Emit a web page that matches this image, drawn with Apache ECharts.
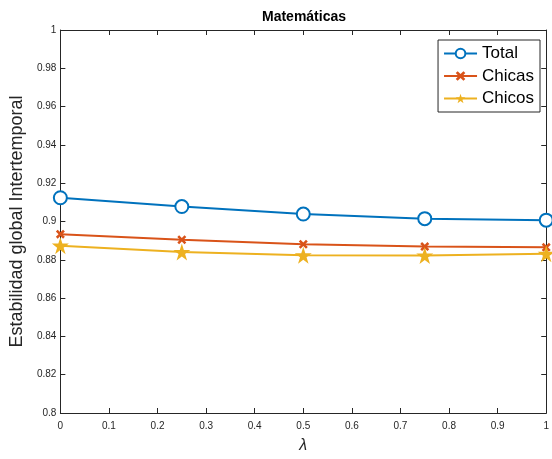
<!DOCTYPE html>
<html>
<head>
<meta charset="utf-8">
<script src="https://cdn.jsdelivr.net/npm/echarts@6/dist/echarts.min.js"></script>
<style>html,body{margin:0;padding:0;background:#fff}#c{width:552px;height:459px}</style>
</head>
<body>
<div id="c"></div>
<script>
const lambdas = [0, 0.25, 0.5, 0.75, 1];
const total  = [0.9124, 0.9078, 0.9039, 0.9015, 0.9007];
const chicas = [0.8934, 0.8905, 0.8881, 0.8869, 0.8865];
const chicos = [0.8874, 0.8841, 0.8824, 0.8822, 0.8831];
const seriesNames = ['Total', 'Chicas', 'Chicos'];

const crossPath = 'path://M2,0L5,3L8,0L10,2L7,5L10,8L8,10L5,7L2,10L0,8L3,5L0,2Z';
const starPath = 'path://M0,-10L2.245,-3.09L9.51,-3.09L3.633,1.18L5.88,8.09L0,3.82L-5.88,8.09L-3.633,1.18L-9.51,-3.09L-2.245,-3.09Z';
const axisColor = '#262626';
const font = 'Liberation Sans, Arial, Helvetica, sans-serif';

function pts(v){ return lambdas.map((x,i)=>[x, v[i]]); }

const chart = echarts.init(document.getElementById('c'), null, {renderer:'canvas'});
const xCommon = {
  type:'value', min:0, max:1, interval:0.1,
  axisLine:{show:true, onZero:false, lineStyle:{color:axisColor, width:1}},
  axisTick:{show:true, inside:true, length:5, lineStyle:{color:axisColor}},
  splitLine:{show:false}
};
const yCommon = {
  type:'value', min:0.8, max:1, interval:0.02,
  axisLine:{show:true, onZero:false, lineStyle:{color:axisColor, width:1}},
  axisTick:{show:true, inside:true, length:5, lineStyle:{color:axisColor}},
  splitLine:{show:false}
};
chart.setOption({
  animation:false,
  backgroundColor:'#fff',
  graphic:[{type:'text', x:304, y:10,
    style:{text:'Matemáticas', textAlign:'center', textVerticalAlign:'top', font:'bold 14px ' + font, fill:'#000'}}],
  grid:{left:59, right:1, top:30, bottom:41, containLabel:false},
  legend:{
    data:seriesNames, orient:'vertical', right:12, top:40,
    itemWidth:33, itemHeight:12, itemGap:5.5,
    backgroundColor:'#fff', borderColor:axisColor, borderWidth:1,
    padding:[5,6,5,5],
    textStyle:{fontFamily:font, fontSize:17, color:'#000'}
  },
  xAxis:[
    Object.assign({}, xCommon, {position:'bottom',
      name:'λ', nameLocation:'middle', nameGap:25,
      nameTextStyle:{fontFamily:font, fontSize:16, color:axisColor, fontStyle:'italic'},
      axisLabel:{show:true, fontFamily:font, fontSize:10, color:axisColor, margin:8,
        formatter:v=>String(parseFloat(v.toFixed(2)))}}),
    Object.assign({}, xCommon, {position:'top', axisLabel:{show:false}})
  ],
  yAxis:[
    Object.assign({}, yCommon, {position:'left',
      name:'Estabilidad global Intertemporal', nameLocation:'middle', nameGap:30,
      nameTextStyle:{fontFamily:font, fontSize:18, color:axisColor},
      axisLabel:{show:true, fontFamily:font, fontSize:10, color:axisColor, margin:4,
        formatter:v=>String(parseFloat(v.toFixed(2)))}}),
    Object.assign({}, yCommon, {position:'right', axisLabel:{show:false}})
  ],
  series:[
    {name:seriesNames[0], type:'line', data:pts(total), symbol:'emptyCircle', symbolSize:13,
      lineStyle:{color:'#0072BD', width:2},
      itemStyle:{color:'#0072BD', borderWidth:2}, color:'#0072BD'},
    {name:seriesNames[1], type:'line', data:pts(chicas), symbol:crossPath, symbolSize:9,
      lineStyle:{color:'#D95319', width:2},
      itemStyle:{color:'#D95319', borderWidth:0}, color:'#D95319'},
    {name:seriesNames[2], type:'line', data:pts(chicos), symbol:starPath, symbolSize:17,
      lineStyle:{color:'#EDB120', width:2},
      itemStyle:{color:'#EDB120', borderWidth:0}, color:'#EDB120'}
  ]
});
</script>
</body>
</html>
